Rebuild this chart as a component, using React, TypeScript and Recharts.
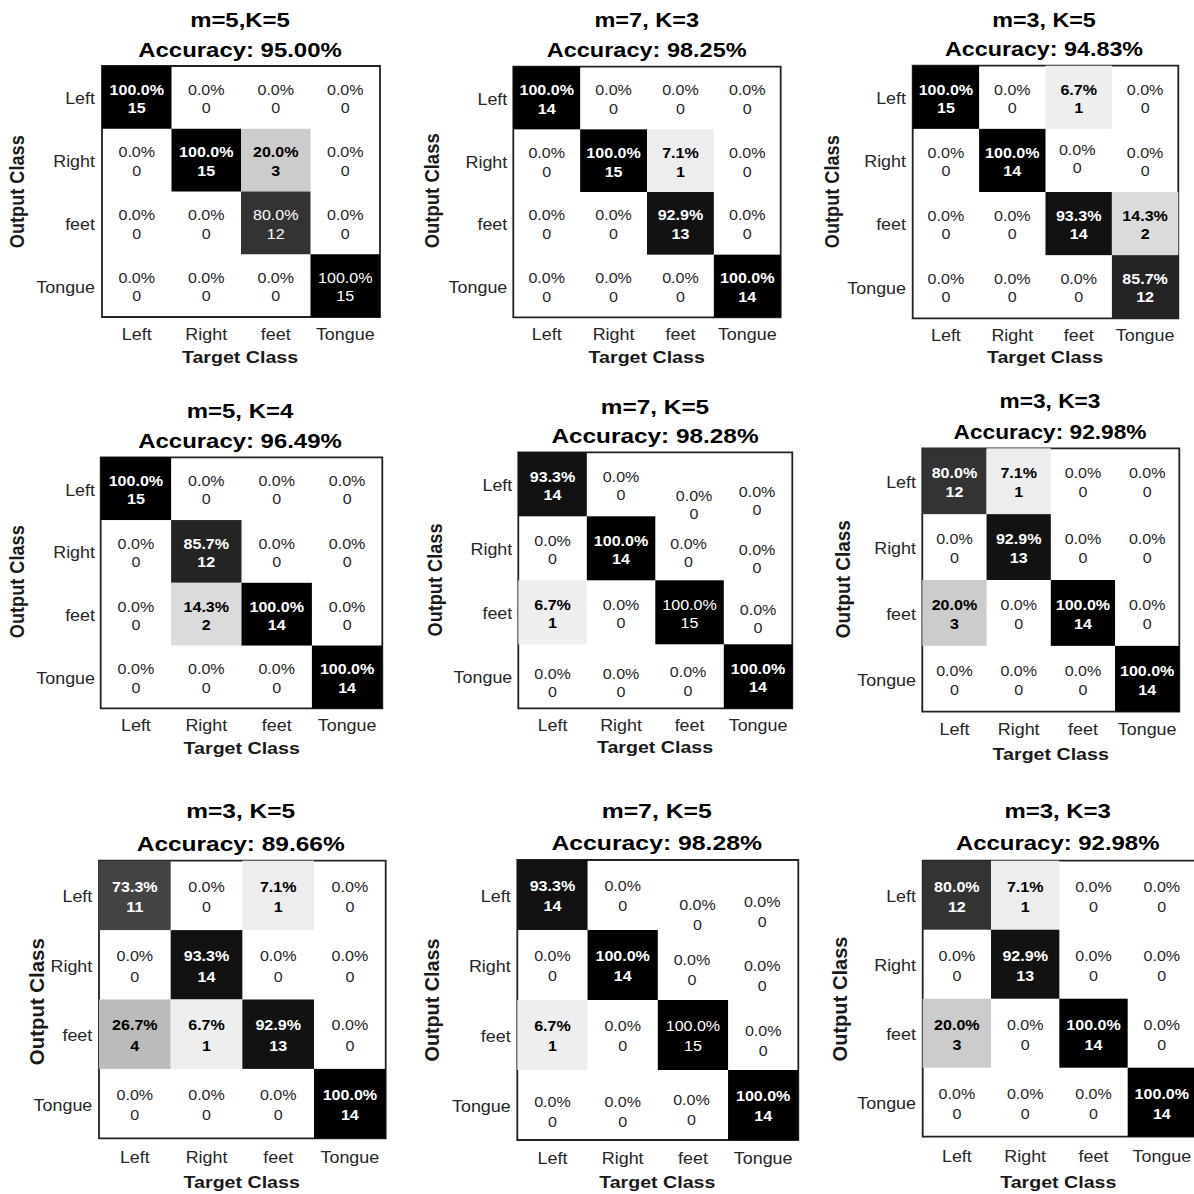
import React from 'react';
import { ScatterChart, Scatter, XAxis, YAxis, ReferenceArea } from 'recharts';

// Class names used on both axes (rows = output class, columns = target class)
const CLASSES = ['Left', 'Right', 'feet', 'Tongue'];

// ---- Confusion matrices: counts and column-normalised percentages ----
const countsA = [[15, 0, 0, 0], [0, 15, 3, 0], [0, 0, 12, 0], [0, 0, 0, 15]];
const pctA = [[100, 0, 0, 0], [0, 100, 20, 0], [0, 0, 80, 0], [0, 0, 0, 100]];

const countsB = [[14, 0, 0, 0], [0, 15, 1, 0], [0, 0, 13, 0], [0, 0, 0, 14]];
const pctB = [[100, 0, 0, 0], [0, 100, 7.1, 0], [0, 0, 92.9, 0], [0, 0, 0, 100]];

const countsC = [[15, 0, 1, 0], [0, 14, 0, 0], [0, 0, 14, 2], [0, 0, 0, 12]];
const pctC = [[100, 0, 6.7, 0], [0, 100, 0, 0], [0, 0, 93.3, 14.3], [0, 0, 0, 85.7]];

const countsD = [[15, 0, 0, 0], [0, 12, 0, 0], [0, 2, 14, 0], [0, 0, 0, 14]];
const pctD = [[100, 0, 0, 0], [0, 85.7, 0, 0], [0, 14.3, 100, 0], [0, 0, 0, 100]];

const countsE = [[14, 0, 0, 0], [0, 14, 0, 0], [1, 0, 15, 0], [0, 0, 0, 14]];
const pctE = [[93.3, 0, 0, 0], [0, 100, 0, 0], [6.7, 0, 100, 0], [0, 0, 0, 100]];

const countsF = [[12, 1, 0, 0], [0, 13, 0, 0], [3, 0, 14, 0], [0, 0, 0, 14]];
const pctF = [[80, 7.1, 0, 0], [0, 92.9, 0, 0], [20, 0, 100, 0], [0, 0, 0, 100]];

const countsG = [[11, 0, 1, 0], [0, 14, 0, 0], [4, 1, 13, 0], [0, 0, 0, 14]];
const pctG = [[73.3, 0, 7.1, 0], [0, 93.3, 0, 0], [26.7, 6.7, 92.9, 0], [0, 0, 0, 100]];

// Panel headings
const titles = ['m=5,K=5', 'm=7, K=3', 'm=3, K=5', 'm=5, K=4', 'm=7, K=5', 'm=3, K=3', 'm=3, K=5', 'm=7, K=5', 'm=3, K=3'];
const accuracies = ['95.00', '98.25', '94.83', '96.49', '98.28', '92.98', '89.66', '98.28', '92.98'];

// Cells whose labels are set in regular weight
const plainA = ['2,2', '3,3'];
const plainE = ['2,2'];

// Label nudges (dx, dy in px) for the hand-placed zero labels
const nudgeE: Record<string, [number, number]> = {
  '0,2': [4.5, 19], '0,3': [-1, 15.5], '1,2': [-1, 3.5], '1,3': [-1, 9.5],
  '2,3': [0, 5], '3,0': [0, 5.5], '3,1': [0, 5.5], '3,2': [-1.5, 3.7],
};
const nudgeC: Record<string, [number, number]> = { '1,2': [-1.5, -2.5] };

const FONT = "'Liberation Sans', Arial, Helvetica, sans-serif";
const INK = '#262626';

type Box = { l: number; t: number; r: number; b: number };
type Layout = {
  cl: number; ct: number; w: number; h: number; box: Box;
  titleX: number; t1: number; t2: number; titleSx: number;
  rowRight: number; colBase: number; targetX: number; targetBase: number;
  outX: number; outY: number; outLen: number; ls: number;
};
type Spec = {
  title: string; acc: string; counts: number[][]; pct: number[][];
  plain?: string[]; nudge?: Record<string, [number, number]>; lay: Layout;
};

const panels: Spec[] = [
  { title: titles[0], acc: accuracies[0], counts: countsA, pct: pctA, plain: plainA,
    lay: { cl: 0, ct: 0, w: 400, h: 380, box: { l: 102, t: 66, r: 380, b: 317 }, titleX: 240, t1: 26.7, t2: 56.7, titleSx: 1.14,
      rowRight: 95, colBase: 340, targetX: 240, targetBase: 363.3, outX: 17, outY: 191.7, outLen: 113, ls: 18.3 } },
  { title: titles[1], acc: accuracies[1], counts: countsB, pct: pctB,
    lay: { cl: 400, ct: 0, w: 400, h: 380, box: { l: 513.3, t: 66.7, r: 780.7, b: 317.3 }, titleX: 646.7, t1: 27.3, t2: 57.3, titleSx: 1.12,
      rowRight: 507.3, colBase: 340, targetX: 646.7, targetBase: 363.3, outX: 432, outY: 190.8, outLen: 115, ls: 18.7 } },
  { title: titles[2], acc: accuracies[2], counts: countsC, pct: pctC, nudge: nudgeC,
    lay: { cl: 800, ct: 0, w: 394, h: 380, box: { l: 912.7, t: 65.7, r: 1178.3, b: 318.3 }, titleX: 1044, t1: 26.7, t2: 56, titleSx: 1.11,
      rowRight: 906, colBase: 340.7, targetX: 1045, targetBase: 363.3, outX: 831.7, outY: 191.7, outLen: 113, ls: 18 } },
  { title: titles[3], acc: accuracies[3], counts: countsD, pct: pctD,
    lay: { cl: 0, ct: 388, w: 400, h: 382, box: { l: 100.7, t: 457.3, r: 382.3, b: 708.3 }, titleX: 240, t1: 418.3, t2: 448.3, titleSx: 1.14,
      rowRight: 95, colBase: 730.7, targetX: 241.7, targetBase: 754, outX: 17, outY: 581.7, outLen: 113, ls: 18.3 } },
  { title: titles[4], acc: accuracies[4], counts: countsE, pct: pctE, plain: plainE, nudge: nudgeE,
    lay: { cl: 400, ct: 388, w: 400, h: 382, box: { l: 518.3, t: 452.3, r: 792.3, b: 708.3 }, titleX: 655, t1: 414, t2: 442.7, titleSx: 1.16,
      rowRight: 512.3, colBase: 730.7, targetX: 655, targetBase: 753.3, outX: 435.3, outY: 580, outLen: 113, ls: 18.3 } },
  { title: titles[5], acc: accuracies[5], counts: countsF, pct: pctF,
    lay: { cl: 800, ct: 388, w: 394, h: 382, box: { l: 922.3, t: 448.3, r: 1179.3, b: 711.7 }, titleX: 1050, t1: 408.3, t2: 439.3, titleSx: 1.08,
      rowRight: 916, colBase: 735, targetX: 1050.7, targetBase: 760, outX: 843.3, outY: 579.2, outLen: 118, ls: 19.3 } },
  { title: titles[6], acc: accuracies[6], counts: countsG, pct: pctG,
    lay: { cl: 0, ct: 788, w: 400, h: 406, box: { l: 99, t: 860.7, r: 385.7, b: 1138.3 }, titleX: 240.7, t1: 818.3, t2: 851, titleSx: 1.165,
      rowRight: 92.3, colBase: 1162.7, targetX: 241.7, targetBase: 1188.3, outX: 36.7, outY: 1001.7, outLen: 127, ls: 20.7 } },
  { title: titles[7], acc: accuracies[7], counts: countsE, pct: pctE, plain: plainE, nudge: nudgeE,
    lay: { cl: 400, ct: 788, w: 400, h: 406, box: { l: 517.3, t: 860, r: 798.3, b: 1140 }, titleX: 656.7, t1: 818.3, t2: 850, titleSx: 1.18,
      rowRight: 510.7, colBase: 1164, targetX: 657.3, targetBase: 1188.3, outX: 431.7, outY: 1000, outLen: 123, ls: 20 } },
  { title: titles[8], acc: accuracies[8], counts: countsF, pct: pctF,
    lay: { cl: 800, ct: 788, w: 398, h: 406, box: { l: 922.7, t: 860.7, r: 1196, b: 1136.7 }, titleX: 1057.7, t1: 818.3, t2: 850, titleSx: 1.14,
      rowRight: 916, colBase: 1161.7, targetX: 1058.3, targetBase: 1188.3, outX: 840, outY: 999, outLen: 125, ls: 20 } },
];

const grayFor = (p: number) => {
  const v = Math.round(255 * (1 - p / 100));
  return `rgb(${v},${v},${v})`;
};

function Panel({ spec }: { spec: Spec }) {
  const lay = spec.lay;
  const { box, cl, ct, w, h } = lay;
  const cw = (box.r - box.l) / 4;
  const chH = (box.b - box.t) / 4;
  const cells = spec.counts.flatMap((row, r) =>
    row.map((count, c) => ({ row: r, col: c, count, pct: spec.pct[r][c] }))
  );
  const CELL_FS = 15.3;
  const TICK_FS = 16.5;
  const TITLE_FS = 21;
  const AXIS_FS = 17.2;

  const renderCell = (p: any) => {
    const { cx, cy, payload } = p;
    const key = `${payload.row},${payload.col}`;
    const pct: number = payload.pct;
    const nz = pct > 0;
    const bold = nz && !(spec.plain || []).includes(key);
    const color = pct >= 50 ? '#ffffff' : nz ? '#000000' : INK;
    const [dx, dy] = (spec.nudge && spec.nudge[key]) || [0, 0];
    const mid = cy + 1 + dy;
    const b1 = mid - lay.ls / 2 + CELL_FS * 0.358;
    const b2 = mid + lay.ls / 2 + CELL_FS * 0.358;
    const tx = cx + dx;
    const common = {
      textAnchor: 'middle' as const,
      fontSize: CELL_FS,
      fontWeight: bold ? 700 : 400,
      fill: color,
      fontFamily: FONT,
    };
    return (
      <g>
        {nz && (
          <rect x={cx - cw / 2} y={cy - chH / 2} width={cw} height={chH} fill={grayFor(pct)} />
        )}
        <text transform={`translate(${tx},${b1}) scale(1.05,1)`} {...common}>{pct.toFixed(1)}%</text>
        <text transform={`translate(${tx},${b2}) scale(1.05,1)`} {...common}>{payload.count}</text>
      </g>
    );
  };

  const xTick = (p: any) => (
    <text
      transform={`translate(${p.x},${lay.colBase - ct}) scale(1.085,1)`}
      textAnchor="middle" fontSize={TICK_FS} fill={INK} fontFamily={FONT}
    >{CLASSES[p.payload.value]}</text>
  );
  const yTick = (p: any) => (
    <text
      transform={`translate(${lay.rowRight - cl},${p.y + 1 + TICK_FS * 0.358}) scale(1.085,1)`}
      textAnchor="end" fontSize={TICK_FS} fill={INK} fontFamily={FONT}
    >{CLASSES[p.payload.value]}</text>
  );

  return (
    <div style={{ position: 'absolute', left: cl, top: ct, width: w, height: h }}>
      <ScatterChart
        width={w}
        height={h}
        margin={{ top: box.t - ct, right: cl + w - box.r, bottom: 0, left: 0 }}
      >
        <XAxis
          type="number" dataKey="col" domain={[-0.5, 3.5]} ticks={[0, 1, 2, 3]} interval={0}
          axisLine={false} tickLine={false} tickSize={0} tickMargin={0}
          height={ct + h - box.b} tick={xTick}
        />
        <YAxis
          type="number" dataKey="row" domain={[-0.5, 3.5]} ticks={[0, 1, 2, 3]} interval={0} reversed
          axisLine={false} tickLine={false} tickSize={0} tickMargin={0}
          width={box.l - cl} tick={yTick}
        />
        <Scatter data={cells} shape={renderCell} isAnimationActive={false} />
        <ReferenceArea x1={-0.5} x2={3.5} y1={-0.5} y2={3.5} fill="none" stroke="#222222" strokeWidth={1.8} ifOverflow="visible" />
        <text
          transform={`translate(${lay.titleX - cl},${lay.t1 - ct}) scale(${lay.titleSx},1)`}
          textAnchor="middle" fontSize={TITLE_FS} fontWeight={700} fill="#000" fontFamily={FONT}
        >{spec.title}</text>
        <text
          transform={`translate(${lay.titleX - cl},${lay.t2 - ct}) scale(${lay.titleSx},1)`}
          textAnchor="middle" fontSize={TITLE_FS} fontWeight={700} fill="#000" fontFamily={FONT}
        >{`Accuracy: ${spec.acc}%`}</text>
        <text
          transform={`translate(${lay.targetX - cl},${lay.targetBase - ct}) scale(1.14,1)`}
          textAnchor="middle" fontSize={AXIS_FS} fontWeight={700} fill="#1a1a1a" fontFamily={FONT}
        >Target Class</text>
        <text
          transform={`translate(${lay.outX - cl},${lay.outY - ct}) rotate(-90) scale(1,1.14)`}
          dy="0.358em" textAnchor="middle" fontSize={AXIS_FS} fontWeight={700} fill="#1a1a1a" fontFamily={FONT}
          textLength={lay.outLen} lengthAdjust="spacingAndGlyphs"
        >Output Class</text>
      </ScatterChart>
    </div>
  );
}

export default function App() {
  return (
    <div style={{ position: 'absolute', left: 0, top: 0, width: 1194, height: 1194, overflow: 'hidden', background: '#ffffff' }}>
      {panels.map((p, i) => (
        <Panel key={i} spec={p} />
      ))}
    </div>
  );
}
